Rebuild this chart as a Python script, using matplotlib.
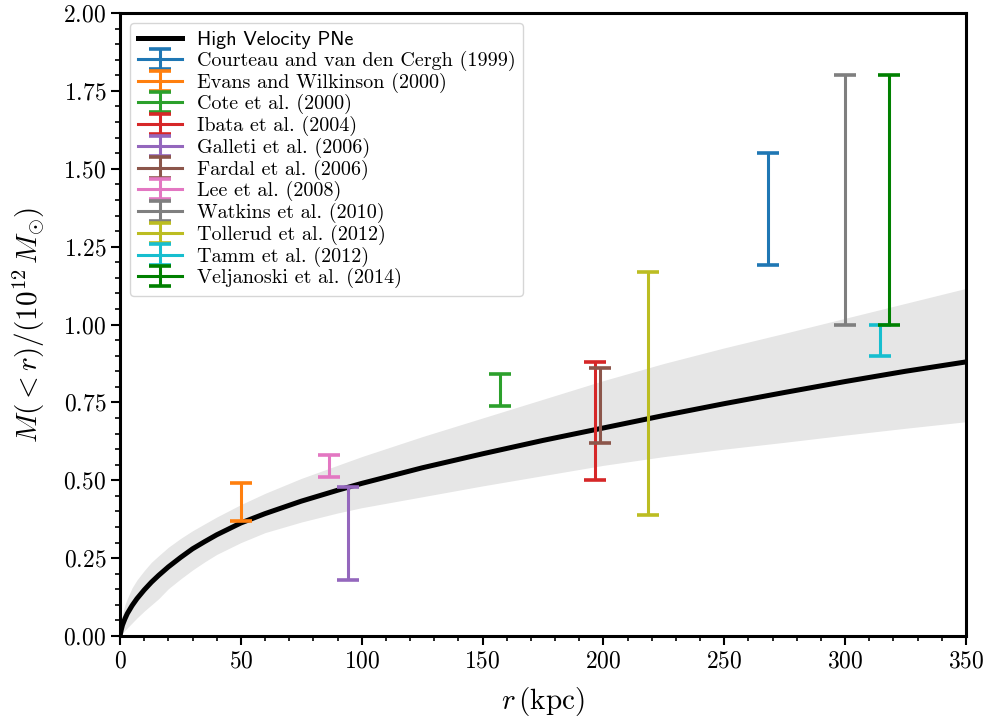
import numpy as np
import matplotlib
matplotlib.use('Agg')
from matplotlib import pyplot as plt
from matplotlib.ticker import MultipleLocator

plt.rcParams['font.family'] = 'serif'
plt.rcParams['font.serif'] = ['cmr10']
plt.rcParams['mathtext.fontset'] = 'cm'
plt.rcParams['axes.formatter.use_mathtext'] = True

# High velocity PNe mass profile and its band
r_model = [0, 0.5, 1, 2, 3, 5, 7, 10, 13, 16, 20, 25, 30, 35, 40, 50, 60, 75, 90,
           100, 125, 150, 175, 200, 225, 250, 275, 300, 325, 350]
m_model = [0.0, 0.02, 0.035, 0.055, 0.072, 0.098, 0.12, 0.148, 0.173, 0.195,
           0.222, 0.252, 0.28, 0.303, 0.325, 0.363, 0.393, 0.433, 0.468,
           0.49, 0.54, 0.585, 0.628, 0.668, 0.708, 0.746, 0.782, 0.817, 0.85, 0.88]
m_upper = [0.0, 0.05, 0.07, 0.10, 0.12, 0.155, 0.18, 0.21, 0.237, 0.258,
           0.285, 0.313, 0.338, 0.36, 0.382, 0.422, 0.458, 0.506, 0.548,
           0.576, 0.64, 0.70, 0.76, 0.82, 0.875, 0.925, 0.972, 1.02, 1.068, 1.116]
m_lower = [0.0, 0.005, 0.01, 0.018, 0.026, 0.042, 0.058, 0.08, 0.1, 0.12,
           0.152, 0.183, 0.212, 0.238, 0.262, 0.30, 0.332, 0.366, 0.395,
           0.412, 0.447, 0.482, 0.515, 0.548, 0.576, 0.60, 0.622, 0.645, 0.667, 0.688]

# literature estimates: radius, lower and upper mass
studies = ['Courteau and van den Cergh (1999)', 'Evans and Wilkinson (2000)',
           'Cote et al. (2000)', 'Ibata et al. (2004)', 'Galleti et al. (2006)',
           'Fardal et al. (2006)', 'Lee et al. (2008)', 'Watkins et al. (2010)',
           'Tollerud et al. (2012)', 'Tamm et al. (2012)', 'Veljanoski et al. (2014)']
r_obs = [268, 50, 157, 196.5, 94.5, 198.5, 86.5, 300, 218.5, 314.5, 318]
m_lo = [1.19, 0.37, 0.74, 0.50, 0.18, 0.62, 0.51, 1.00, 0.39, 0.90, 1.00]
m_hi = [1.55, 0.49, 0.84, 0.88, 0.48, 0.86, 0.58, 1.80, 1.17, 1.00, 1.80]
colors = ['C0', 'C1', 'C2', 'C3', 'C4', 'C5', 'C6', 'C7', 'C8', 'C9', 'green']

fig = plt.figure(figsize=(9.88, 7.24), dpi=100)
ax = fig.add_axes([0.1215, 0.1215, 0.8562, 0.8605])

ax.fill_between(r_model, m_lower, m_upper, color='0.9', lw=0)
ax.plot(r_model, m_model, color='k', lw=3.6, label='High Velocity PNe')

for name, x, lo, hi, c in zip(studies, r_obs, m_lo, m_hi, colors):
    mid = 0.5 * (lo + hi)
    ax.errorbar([x], [mid], yerr=[[mid - lo], [hi - mid]], color=c,
                elinewidth=2.2, capsize=8, capthick=2.6, lw=2.2, label=name)

ax.set_xlim(0, 350)
ax.set_ylim(0, 2)
ax.xaxis.set_major_locator(MultipleLocator(50))
ax.xaxis.set_minor_locator(MultipleLocator(10))
ax.yaxis.set_major_locator(MultipleLocator(0.25))
ax.yaxis.set_minor_locator(MultipleLocator(0.05))
ax.tick_params(which='major', length=6.5, width=1.5, labelsize=17)
ax.tick_params(which='minor', length=3.5, width=1.2)
for s in ax.spines.values():
    s.set_linewidth(2.2)

ax.set_xlabel(r'$r\,(\mathrm{kpc})$', fontsize=21, labelpad=9)
ax.set_ylabel(r'$M(<r)/(10^{12}\,M_{\odot})$', fontsize=21, labelpad=12)

leg = ax.legend(loc='upper left', fontsize=14.5, handlelength=2.2,
                labelspacing=0.08, borderaxespad=0.5, handletextpad=0.7)
leg.get_texts()[0].set_family('cmss10')

fig.savefig('out.png', dpi=100)
